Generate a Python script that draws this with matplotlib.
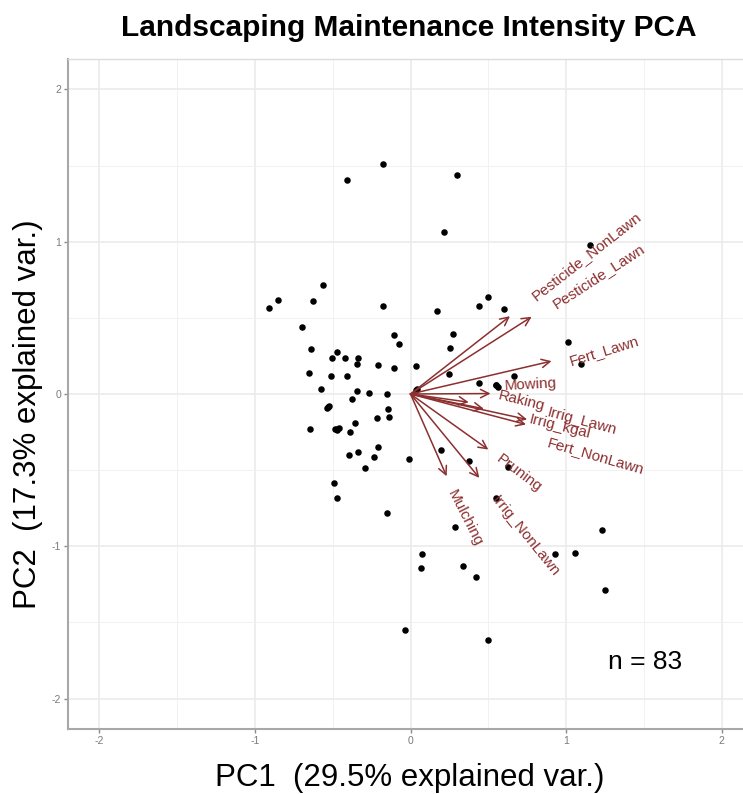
import numpy as np
import matplotlib
matplotlib.use("Agg")
import matplotlib.pyplot as plt

plt.rcParams['font.family'] = ['Liberation Sans', 'DejaVu Sans']
plt.rcParams['axes.unicode_minus'] = False

# PC scores for each site (n = 83)
pc1 = [-0.910, -0.853, -0.564, -0.624, -0.175, -0.695, -0.104, -0.072, -0.641, -0.470,
       -0.502, -0.421, -0.335, -0.345, -0.207, -0.106, 0.035, -0.654, -0.512, -0.410,
       -0.575, -0.345, -0.378, -0.265, -0.149, 0.040, -0.521, -0.534, -0.143, -0.136,
       -0.213, -0.356, -0.388, -0.647, -0.485, -0.459, -0.469, -0.207, -0.335, -0.395,
       -0.236, -0.292, -0.008, 0.194, -0.491, -0.472, -0.153, -0.178, -0.406, 0.297,
       0.215, 0.168, 0.440, 0.275, 0.256, 0.249, 1.152, 0.496, 0.600, 1.013,
       1.093, 0.666, 0.438, 0.547, 0.560, 0.378, 0.628, 0.549, 0.288, 1.231,
       0.072, 0.067, 0.339, 0.422, 0.928, 1.054, 1.251, -0.033, 0.496,
       -0.475, 0.037, -0.528, 0.552]
pc2 = [0.568, 0.616, 0.719, 0.608, 0.579, 0.439, 0.389, 0.330, 0.294, 0.279,
       0.235, 0.235, 0.238, 0.200, 0.189, 0.169, 0.187, 0.135, 0.115, 0.115,
       0.036, 0.018, -0.030, 0.005, 0.003, 0.030, -0.076, -0.095, -0.100, -0.150,
       -0.156, -0.192, -0.248, -0.227, -0.231, -0.225, -0.236, -0.347, -0.380, -0.402,
       -0.415, -0.487, -0.430, -0.367, -0.586, -0.686, -0.783, 1.512, 1.404, 1.435,
       1.065, 0.546, 0.579, 0.391, 0.303, 0.133, 0.977, 0.638, 0.555, 0.340,
       0.196, 0.117, 0.074, 0.062, 0.049, -0.441, -0.481, -0.686, -0.872, -0.895,
       -1.052, -1.144, -1.128, -1.205, -1.054, -1.043, -1.284, -1.549, -1.614,
       -0.232, 0.028, -0.085, 0.058]

# variable loadings (arrow tips)
variables = ['Pesticide_NonLawn', 'Pesticide_Lawn', 'Fert_Lawn', 'Mowing', 'Raking',
             'Irrig_Lawn', 'Irrig_kgal', 'Fert_NonLawn', 'Pruning', 'Irrig_NonLawn',
             'Mulching']
load1 = [0.639, 0.778, 0.906, 0.514, 0.374, 0.749, 0.742, 0.471, 0.500, 0.442, 0.232]
load2 = [0.511, 0.507, 0.216, 0.003, -0.054, -0.167, -0.200, -0.097, -0.365, -0.551, -0.540]

var1, var2 = 29.5, 17.3
n_sites = 83

# where each variable name sits (x, y, angle)
label_spots = {
    'Pesticide_NonLawn': (1.130, 0.903, 38),
    'Pesticide_Lawn': (1.207, 0.772, 33),
    'Fert_Lawn': (1.246, 0.286, 17),
    'Mowing': (0.770, 0.062, 3),
    'Raking': (0.713, -0.048, -14),
    'Irrig_Lawn': (1.104, -0.178, -15),
    'Irrig_kgal': (0.957, -0.217, -14),
    'Fert_NonLawn': (1.190, -0.408, -16),
    'Pruning': (0.695, -0.522, -37),
    'Irrig_NonLawn': (0.735, -0.934, -51),
    'Mulching': (0.347, -0.818, -63),
}

arrow_col = '#8c2f2f'

fig = plt.figure(figsize=(7.43, 7.94), dpi=100)
ax = fig.add_axes([68 / 743, 65 / 794, 685 / 743, 670 / 794])

ax.set_xlim(-2.2, 2.2)
ax.set_ylim(-2.2, 2.2)
ax.set_xticks([-2, -1, 0, 1, 2])
ax.set_yticks([-2, -1, 0, 1, 2])
ax.set_xticks(np.arange(-1.5, 2, 1.0), minor=True)
ax.set_yticks(np.arange(-1.5, 2, 1.0), minor=True)
ax.grid(which='major', color='#ebebeb', lw=1.2)
ax.grid(which='minor', color='#f1f1f1', lw=0.7)
ax.set_axisbelow(True)
ax.tick_params(which='major', length=3, width=1, color='#8a8a8a', labelsize=7.5,
               labelcolor='#7a7a7a', pad=2)
ax.tick_params(which='minor', length=0)
for s in ['left', 'bottom']:
    ax.spines[s].set_color('#a8a8a8')
    ax.spines[s].set_linewidth(1.5)
ax.spines['top'].set_color('#dcdcdc')
ax.spines['top'].set_linewidth(1)
ax.spines['right'].set_visible(False)

ax.scatter(pc1, pc2, s=22, color='black', zorder=3, linewidths=0)

for name, lx, ly in zip(variables, load1, load2):
    ax.annotate('', xy=(lx, ly), xytext=(0, 0),
                arrowprops=dict(arrowstyle='->,head_length=0.6,head_width=0.3',
                                color=arrow_col, lw=1.1, shrinkA=0, shrinkB=0),
                zorder=4)
    tx, ty, ang = label_spots[name]
    ax.text(tx, ty, name, color=arrow_col, fontsize=11, rotation=ang,
            rotation_mode='anchor', ha='center', va='center', zorder=5)

ax.text(1.271, -1.805, f'n = {n_sites}', fontsize=19, color='black', va='baseline')

fig.text(0.5498, 1 - 36 / 794, 'Landscaping Maintenance Intensity PCA',
         fontsize=21.5, fontweight='bold', ha='center', va='baseline')
fig.text(410 / 743, 1 - 786 / 794, f'PC1  ({var1}% explained var.)',
         fontsize=22.5, ha='center', va='baseline')
fig.text(28 / 743, 1 - 414 / 794, f'PC2  ({var2}% explained var.)',
         fontsize=22.5, ha='center', va='center', rotation=90)

fig.savefig('out.png', dpi=100)
